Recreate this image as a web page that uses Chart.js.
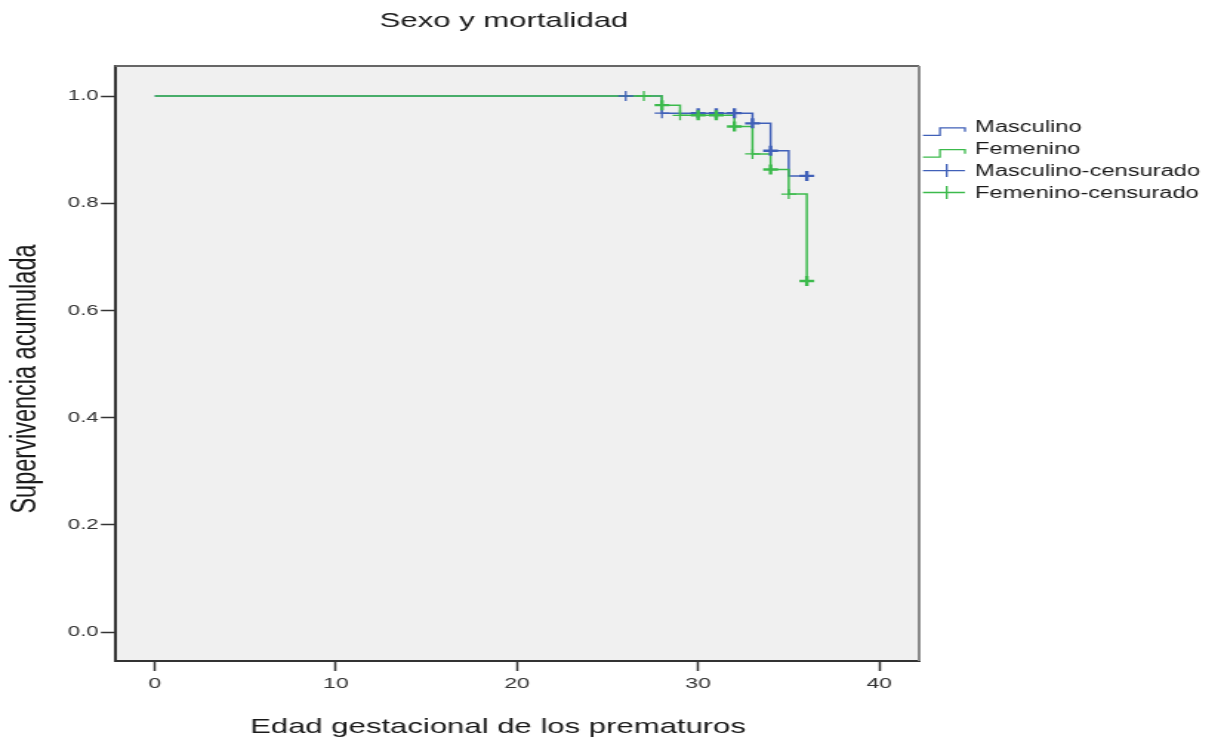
<!DOCTYPE html>
<html>
<head>
<meta charset="utf-8">
<script src="https://cdn.jsdelivr.net/npm/chart.js@4"></script>
<style>
html, body { margin: 0; padding: 0; background: #fff; overflow: hidden; }
#wrap { width: 1209px; height: 742px; overflow: hidden; }
/* the original picture is stretched sideways, so the canvas is too */
#km { display: block; transform: scaleX(1.48); transform-origin: 0 0; }
</style>
</head>
<body>
<div id="wrap"><canvas id="km" width="817" height="742"></canvas></div>
<script>
const chartTitle = 'Sexo y mortalidad';
const xTitle = 'Edad gestacional de los prematuros';
const yTitle = 'Supervivencia acumulada';
const seriesNames = ['Masculino', 'Femenino', 'Masculino-censurado', 'Femenino-censurado'];

const xTicks = [0, 10, 20, 30, 40];
const yTicks = [0.0, 0.2, 0.4, 0.6, 0.8, 1.0];

// Escalones Kaplan-Meier (semana, supervivencia)
const maleTimes = [0, 28, 33, 34, 35, 36];
const maleSurv = [1.0, 0.968, 0.949, 0.898, 0.851, 0.851];
const femaleTimes = [0, 28, 29, 32, 33, 34, 35, 36];
const femaleSurv = [1.0, 0.983, 0.964, 0.943, 0.892, 0.863, 0.817, 0.655];

// Casos censurados (n = cuantos en esa semana)
const maleCensTimes = [26, 28, 30, 31, 32, 33, 34, 36];
const maleCensSurv = [1.0, 0.968, 0.968, 0.968, 0.968, 0.949, 0.898, 0.851];
const maleCensN = [1, 1, 2, 2, 2, 2, 2, 2];
const femaleCensTimes = [27, 28, 29, 30, 31, 32, 33, 34, 35, 36];
const femaleCensSurv = [1.0, 0.983, 0.964, 0.964, 0.964, 0.943, 0.892, 0.863, 0.817, 0.655];
const femaleCensN = [1, 2, 1, 2, 2, 2, 1, 2, 1, 2];

const blue = '#4060b8';
const green = '#3cba4c';
const font = "'Liberation Sans', Arial, sans-serif";

const pts = (xs, ys) => xs.map((x, i) => ({ x: x, y: ys[i] }));

const kmDecor = {
    id: 'kmDecor',
    beforeDraw(chart) {
        const { ctx, chartArea: a } = chart;
        ctx.save();
        ctx.fillStyle = '#fff';
        ctx.fillRect(0, 0, chart.width, chart.height);
        ctx.fillStyle = '#f0f0f0';
        ctx.fillRect(a.left, a.top, a.right - a.left, a.bottom - a.top);
        ctx.restore();
    },
    afterDraw(chart) {
        const { ctx, chartArea: a } = chart;
        ctx.save();
        // marco superior y derecho
        ctx.strokeStyle = '#666';
        ctx.lineWidth = 2;
        ctx.beginPath();
        ctx.moveTo(a.left, a.top);
        ctx.lineTo(a.right, a.top);
        ctx.stroke();
        ctx.strokeStyle = '#8a8a8a';
        ctx.beginPath();
        ctx.moveTo(a.right, a.top);
        ctx.lineTo(a.right, a.bottom);
        ctx.stroke();

        // titulos
        ctx.fillStyle = '#1a1a1a';
        ctx.textAlign = 'center';
        ctx.textBaseline = 'alphabetic';
        ctx.font = '21px ' + font;
        ctx.fillText(chartTitle, 340.5, 27);
        ctx.fillText(xTitle, 336.5, 733);
        ctx.save();
        ctx.translate(23.6, 379);
        ctx.rotate(-Math.PI / 2);
        ctx.font = '23.5px ' + font;
        ctx.fillText(yTitle, 0, 0);
        ctx.restore();

        // leyenda
        const colors = [blue, green, blue, green];
        const x0 = 623.6, x1 = 652, xm = 635.1, xc = 639.7;
        ctx.font = '16px ' + font;
        ctx.textAlign = 'left';
        ctx.lineWidth = 1.3;
        seriesNames.forEach((name, i) => {
            const base = 132.3 + i * 21.9;
            ctx.strokeStyle = colors[i];
            ctx.beginPath();
            if (i < 2) {
                ctx.moveTo(x0, base + 3);
                ctx.lineTo(xm, base + 3);
                ctx.lineTo(xm, base - 4.5);
                ctx.lineTo(x1, base - 4.5);
                ctx.lineTo(x1, base - 0.5);
            } else {
                ctx.moveTo(x0, base - 5.5);
                ctx.lineTo(x1, base - 5.5);
                ctx.moveTo(xc, base - 12);
                ctx.lineTo(xc, base + 1);
            }
            ctx.stroke();
            ctx.fillStyle = '#1a1a1a';
            ctx.fillText(name, 658.8, base);
        });
        ctx.restore();
    }
};

new Chart(document.getElementById('km'), {
    type: 'line',
    data: {
        datasets: [
            {
                label: seriesNames[0],
                data: pts(maleTimes, maleSurv),
                borderColor: blue,
                borderWidth: 1.5,
                stepped: true,
                pointRadius: 0,
                fill: false,
                order: 4
            },
            {
                label: seriesNames[1],
                data: pts(femaleTimes, femaleSurv),
                borderColor: green,
                borderWidth: 1.5,
                stepped: true,
                pointRadius: 0,
                fill: false,
                order: 3
            },
            {
                label: seriesNames[2],
                data: pts(maleCensTimes, maleCensSurv),
                showLine: false,
                pointStyle: 'cross',
                pointRadius: 5,
                borderColor: blue,
                pointBorderWidth: maleCensN.map(n => n > 1 ? 2.4 : 1.3),
                order: 2
            },
            {
                label: seriesNames[3],
                data: pts(femaleCensTimes, femaleCensSurv),
                showLine: false,
                pointStyle: 'cross',
                pointRadius: 5,
                borderColor: green,
                pointBorderWidth: femaleCensN.map(n => n > 1 ? 2.4 : 1.3),
                order: 1
            }
        ]
    },
    options: {
        responsive: false,
        animation: false,
        devicePixelRatio: 1,
        layout: { padding: { left: 0, top: 66, right: 196, bottom: 0 } },
        scales: {
            x: {
                type: 'linear',
                min: -2.2,
                max: 42.2,
                afterFit: s => { s.height = 81; },
                afterBuildTicks: s => { s.ticks = xTicks.map(v => ({ value: v })); },
                grid: { drawOnChartArea: false, drawTicks: true, tickLength: 10, tickColor: '#333', tickWidth: 1.5 },
                border: { color: '#333', width: 2 },
                ticks: { color: '#333', padding: 3, maxRotation: 0, font: { family: font, size: 15.5 } }
            },
            y: {
                type: 'linear',
                min: -0.054,
                max: 1.056,
                afterFit: s => { s.width = 77.7; },
                afterBuildTicks: s => { s.ticks = yTicks.map(v => ({ value: v })); },
                grid: { drawOnChartArea: false, drawTicks: true, tickLength: 9.5, tickColor: '#333', tickWidth: 1.5 },
                border: { color: '#333', width: 2 },
                ticks: {
                    color: '#333',
                    padding: 1.5,
                    font: { family: font, size: 15 },
                    callback: v => v.toFixed(1)
                }
            }
        },
        plugins: {
            legend: { display: false },
            tooltip: { enabled: false }
        }
    },
    plugins: [kmDecor]
});
</script>
</body>
</html>
